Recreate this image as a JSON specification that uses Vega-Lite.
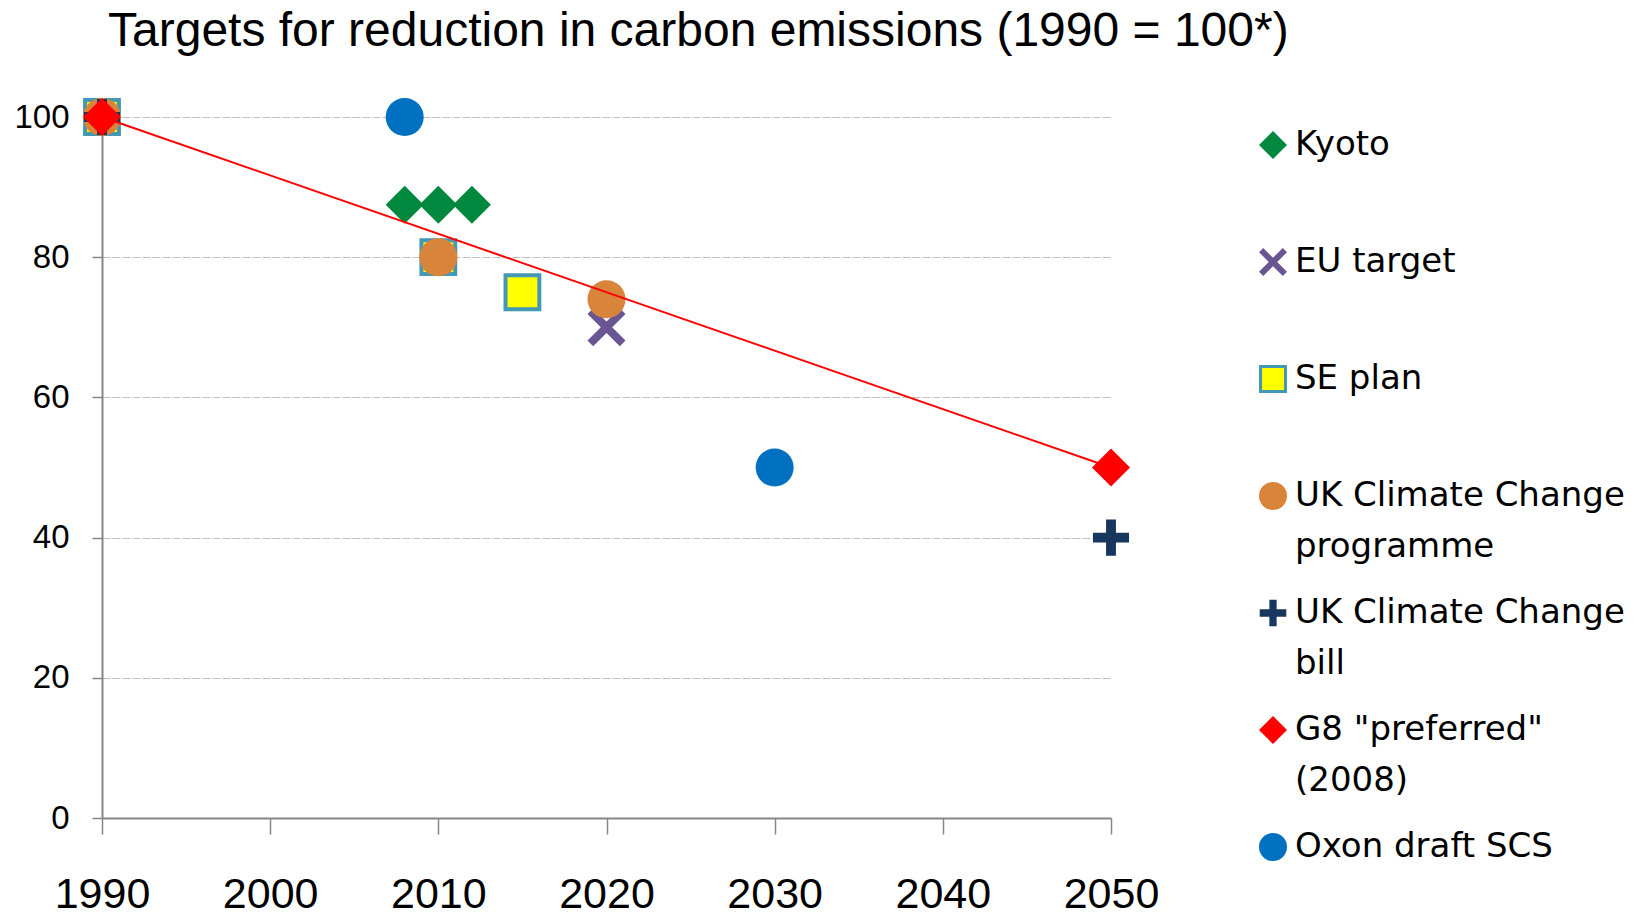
{
  "$schema": "https://vega.github.io/schema/vega-lite/v6.json",
  "width": 1009,
  "height": 701,
  "autosize": {"type": "none"},
  "padding": {"left": 102, "top": 117, "right": 531, "bottom": 99},
  "background": "white",
  "title": {
    "text": "Targets for reduction in carbon emissions (1990 = 100*)",
    "anchor": "start",
    "frame": "group",
    "font": "Liberation Sans",
    "fontSize": 48,
    "fontWeight": "normal",
    "color": "black",
    "dx": 6,
    "offset": 34
  },
  "config": {
    "view": {"stroke": null},
    "style": {"guide-label": {"lineHeight": 51}}
  },
  "data": {
    "values": [
      {"series": "Kyoto", "year": 2008, "value": 87.5},
      {"series": "Kyoto", "year": 2010, "value": 87.5},
      {"series": "Kyoto", "year": 2012, "value": 87.5},
      {"series": "EU target", "year": 2020, "value": 70},
      {"series": "SE plan", "year": 1990, "value": 100},
      {"series": "SE plan", "year": 2010, "value": 80},
      {"series": "SE plan", "year": 2015, "value": 75},
      {"series": "UK Climate Change programme", "year": 1990, "value": 100},
      {"series": "UK Climate Change programme", "year": 2010, "value": 80},
      {"series": "UK Climate Change programme", "year": 2020, "value": 74},
      {"series": "UK Climate Change bill", "year": 1990, "value": 100},
      {"series": "UK Climate Change bill", "year": 2050, "value": 40},
      {"series": "G8 \"preferred\" (2008)", "year": 1990, "value": 100},
      {"series": "G8 \"preferred\" (2008)", "year": 2050, "value": 50},
      {"series": "Oxon draft SCS", "year": 2008, "value": 100},
      {"series": "Oxon draft SCS", "year": 2030, "value": 50}
    ]
  },
  "layer": [
    {
      "mark": {"type": "point", "filled": true, "opacity": 1, "size": 1444, "strokeWidth": 4},
      "encoding": {
        "x": {
          "field": "year",
          "type": "quantitative",
          "scale": {"domain": [1990, 2050], "nice": false, "zero": false},
          "axis": {
            "values": [1990, 2000, 2010, 2020, 2030, 2040, 2050],
            "format": "d",
            "title": null,
            "grid": false,
            "labelFont": "Liberation Sans",
            "labelFontSize": 43,
            "labelColor": "black",
            "labelPadding": 39,
            "labelFlush": false,
            "labelOverlap": false,
            "tickSize": 16,
            "tickColor": "#868686",
            "tickWidth": 1.5,
            "domainColor": "#868686",
            "domainWidth": 2
          }
        },
        "y": {
          "field": "value",
          "type": "quantitative",
          "scale": {"domain": [0, 100], "nice": false},
          "axis": {
            "values": [0, 20, 40, 60, 80, 100],
            "title": null,
            "grid": true,
            "gridColor": "#bfbfbf",
            "gridDash": [8, 2],
            "gridWidth": 1,
            "labelFont": "Liberation Sans",
            "labelFontSize": 33,
            "labelColor": "black",
            "labelPadding": 23,
            "tickSize": 10,
            "tickColor": "#868686",
            "tickWidth": 1.5,
            "domainColor": "#868686",
            "domainWidth": 2
          }
        },
        "fill": {
          "field": "series",
          "type": "nominal",
          "scale": {
            "domain": ["Kyoto", "EU target", "SE plan", "UK Climate Change programme", "UK Climate Change bill", "G8 \"preferred\" (2008)", "Oxon draft SCS"],
            "range": ["#00893e", "#6a5593", "#ffff00", "#d9843b", "#17375e", "#ff0000", "#0070c0"]
          },
          "legend": {
            "title": null,
            "orient": "none",
            "legendX": 1154,
            "legendY": 11,
            "columns": 1,
            "gridAlign": "all",
            "rowPadding": 29,
            "symbolSize": 784,
            "symbolStrokeWidth": 3,
            "labelFont": "DejaVu Sans",
            "labelFontSize": 34,
            "labelColor": "black",
            "labelLimit": 500,
            "labelOffset": 5,
            "labelExpr": "datum.label == 'UK Climate Change programme' ? ['UK Climate Change', 'programme'] : datum.label == 'UK Climate Change bill' ? ['UK Climate Change', 'bill'] : datum.label == 'G8 \"preferred\" (2008)' ? ['G8 \"preferred\"', '(2008)'] : datum.label"
          }
        },
        "stroke": {
          "field": "series",
          "type": "nominal",
          "scale": {
            "domain": ["Kyoto", "EU target", "SE plan", "UK Climate Change programme", "UK Climate Change bill", "G8 \"preferred\" (2008)", "Oxon draft SCS"],
            "range": ["transparent", "transparent", "#4298b5", "transparent", "transparent", "transparent", "transparent"]
          }
        },
        "shape": {
          "field": "series",
          "type": "nominal",
          "scale": {
            "domain": ["Kyoto", "EU target", "SE plan", "UK Climate Change programme", "UK Climate Change bill", "G8 \"preferred\" (2008)", "Oxon draft SCS"],
            "range": [
              "diamond",
              "M-1,-0.7L-0.7,-1L0,-0.3L0.7,-1L1,-0.7L0.3,0L1,0.7L0.7,1L0,0.3L-0.7,1L-1,0.7L-0.3,0Z",
              "M-0.89,-0.89H0.89V0.89H-0.89Z",
              "circle",
              "M-0.26,-0.95H0.26V-0.26H0.95V0.26H0.26V0.95H-0.26V0.26H-0.95V-0.26H-0.26Z",
              "diamond",
              "circle"
            ]
          }
        }
      }
    },
    {
      "transform": [{"filter": {"field": "series", "equal": "G8 \"preferred\" (2008)"}}],
      "mark": {"type": "line", "color": "#ff0000", "strokeWidth": 2},
      "encoding": {
        "x": {"field": "year", "type": "quantitative"},
        "y": {"field": "value", "type": "quantitative"}
      }
    }
  ]
}
